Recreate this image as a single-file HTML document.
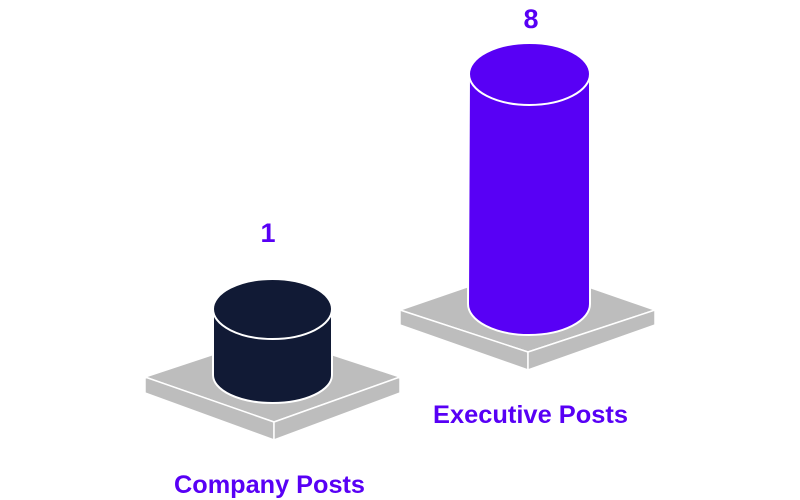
<!DOCTYPE html>
<html><head><meta charset="utf-8"><style>html,body{margin:0;padding:0;background:#fff}svg{display:block}</style></head>
<body>
<svg width="800" height="500" viewBox="0 0 800 500" xmlns="http://www.w3.org/2000/svg">
<g stroke="#fff" stroke-width="1.5" stroke-linejoin="round">
  <!-- left platform -->
  <polygon points="145,377 272,335 400,377 274,422" fill="#bdbdbd"/>
  <polygon points="145,377 274,422 274,440 145,393" fill="#bdbdbd"/>
  <polygon points="274,422 400,377 400,393 274,440" fill="#bdbdbd"/>
  <!-- right platform -->
  <polygon points="400,310 528,266 655,310 528,352" fill="#bdbdbd"/>
  <polygon points="400,310 528,352 528,370 400,325" fill="#bdbdbd"/>
  <polygon points="528,352 655,310 655,325 528,370" fill="#bdbdbd"/>
</g>
<g stroke="#fff" stroke-width="2">
  <!-- left cylinder -->
  <path d="M213,309 L213,375 A59.5,28 0 0 0 332,375 L332,309 Z" fill="#111a35"/>
  <ellipse cx="272.5" cy="309" rx="59.5" ry="30" fill="#111a35"/>
  <!-- right cylinder -->
  <path d="M469,74 L468,304 A61,31 0 0 0 590,304 L590,74 Z" fill="#5800f5"/>
  <ellipse cx="529.5" cy="74" rx="60.5" ry="31" fill="#5800f5"/>
</g>
<g font-family="Liberation Sans, sans-serif" font-weight="bold" fill="#5800f5">
  <text x="268" y="242" font-size="27" text-anchor="middle">1</text>
  <text x="531" y="28" font-size="27" text-anchor="middle">8</text>
  <text x="174" y="493" font-size="25" textLength="191" lengthAdjust="spacingAndGlyphs">Company Posts</text>
  <text x="433" y="423" font-size="25" textLength="195" lengthAdjust="spacingAndGlyphs">Executive Posts</text>
</g>
</svg>
</body></html>
